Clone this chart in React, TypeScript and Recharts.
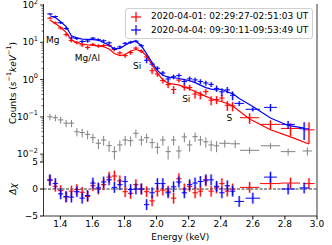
import React from 'react';
import {
  ComposedChart,
  Line,
  Scatter,
  XAxis,
  YAxis,
  ErrorBar,
  ReferenceLine,
  Label,
  Legend,
} from 'recharts';

const FONT = 'DejaVu Sans';
const RED = '#ff0000';
const BLUE = '#0000ff';
const GRAY = '#808080';

// energy bin centres (keV), narrow bins below 2.5 keV
const LOW_E = [
  1.335, 1.369, 1.402, 1.436, 1.469, 1.503, 1.536, 1.57, 1.603, 1.637, 1.67, 1.704, 1.737, 1.771,
  1.804, 1.838, 1.871, 1.905, 1.938, 1.972, 2.005, 2.039, 2.072, 2.106, 2.139, 2.173, 2.206, 2.24,
  2.273, 2.307, 2.34, 2.374, 2.407, 2.441, 2.474,
];
const LOW_HALF = LOW_E.map(() => 0.0167);

const blueE = [...LOW_E, 2.515, 2.6, 2.71, 2.82, 2.92];
const blueHalf = [...LOW_HALF, 0.03, 0.045, 0.04, 0.042, 0.03];
const blueObs = [
  57.5, 49, 33.4, 23.5, 13.1, 12.6, 10.5, 10.8, 12.9, 11.7, 11.0, 9.7, 6.8, 7.5, 9.4, 10.0, 10.7, 8.1,
  3.3, 2.6, 2.02, 1.5, 1.04, 1.19, 1.29, 0.89, 1.05, 0.98, 0.89, 0.81, 0.74, 0.58, 0.47, 0.53, 0.38,
  0.23, 0.16, 0.18, 0.063, 0.048,
];
const blueErr = [
  3.5, 3.0, 2.5, 2.0, 1.3, 1.1, 1.0, 1.0, 1.0, 1.0, 0.9, 0.8, 0.7, 0.7, 0.8, 0.9, 0.9, 0.8, 0.55, 0.35,
  0.25, 0.2, 0.18, 0.17, 0.17, 0.16, 0.15, 0.14, 0.13, 0.12, 0.11, 0.11, 0.11, 0.1, 0.1, 0.035, 0.02,
  0.04, 0.015, 0.024,
];
const blueModel = [
  51.6, 46, 35.6, 26.3, 15.0, 13.1, 12.2, 12.0, 11.8, 11.5, 9.8, 8.3, 6.6, 6.9, 8.3, 10.1, 10.7, 8.1, 4.9,
  2.84, 1.77, 1.3, 1.17, 1.12, 1.07, 1.0, 0.93, 0.83, 0.71, 0.61, 0.556, 0.526, 0.55, 0.466, 0.42, 0.31,
  0.19, 0.093, 0.059, 0.05,
];
const blueRes = [
  1.7, 1.0, -0.9, -1.4, -1.5, -0.5, -1.7, -1.2, 1.1, 0.2, 1.3, 1.7, 0.3, 0.8, 1.4, -0.1, 0, 0, -2.9, -0.7,
  1.0, 1.0, -0.7, 0.4, 1.3, -0.7, 0.8, 1.1, 1.4, 1.7, 1.7, 0.5, -0.7, 0.6, -0.4, -2.3, -1.7, 2.2, 0, 0.2,
];

const redE = [...LOW_E, 2.58, 2.71, 2.835, 2.95];
const redHalf = [...LOW_HALF, 0.06, 0.065, 0.06, 0.035];
const redObs = [
  44.4, 33.2, 24.2, 16.0, 11.1, 9.8, 8.5, 7.3, 8.8, 8.0, 8.2, 8.25, 6.4, 5.2, 4.4, 5.3, 7.0, 5.8, 4.05,
  1.73, 1.41, 0.95, 0.73, 0.54, 0.97, 0.63, 0.615, 0.41, 0.385, 0.475, 0.28, 0.29, 0.32, 0.205, 0.196,
  0.095, 0.063, 0.049, 0.045,
];
const redErr = [
  3, 2.6, 2.1, 1.7, 1.1, 1.0, 0.9, 0.9, 0.85, 0.85, 0.8, 0.75, 0.6, 0.55, 0.55, 0.65, 0.7, 0.65, 0.5,
  0.33, 0.22, 0.16, 0.14, 0.13, 0.13, 0.12, 0.11, 0.1, 0.09, 0.08, 0.075, 0.07, 0.065, 0.06, 0.055, 0.03,
  0.018, 0.018, 0.026,
];
const redModel = [
  39.6, 31.9, 24.8, 18.5, 11.5, 9.9, 9.0, 8.6, 8.3, 8.0, 7.6, 6.6, 5.0, 4.4, 4.7, 5.8, 6.4, 5.8, 4.3, 2.46,
  1.5, 0.98, 0.79, 0.76, 0.72, 0.63, 0.56, 0.48, 0.42, 0.355, 0.31, 0.275, 0.254, 0.229, 0.196, 0.088,
  0.045, 0.029, 0.0187,
];
const redRes = [
  1.6, 0.5, -0.3, -1.5, -0.4, -0.1, -0.6, -1.4, 0.6, 0, 0.8, 2.2, 2.4, 1.5, -0.5, -0.8, 0.8, 0, -0.5, -2.2,
  -0.4, -0.2, -0.4, -1.7, 1.9, 0, 0.5, -0.7, -0.4, 1.5, -0.4, 0.2, 1.0, -0.4, 0, 0.3, 1.0, 1.1, 1.0,
];

// background
const grayE = [...LOW_E.slice(0, 32), 2.425, 2.49, 2.58, 2.71, 2.82, 2.94];
const grayHalf = [...LOW_HALF.slice(0, 32), 0.035, 0.03, 0.06, 0.06, 0.045, 0.03];
const grayObs = [
  0.101, 0.095, 0.083, 0.068, 0.068, 0.04, 0.038, 0.034, 0.0277, 0.0196, 0.024, 0.0169, 0.0117, 0.0177,
  0.024, 0.023, 0.0363, 0.024, 0.0277, 0.0204, 0.0153, 0.024, 0.0117, 0.024, 0.0122, 0.029, 0.0177,
  0.0295, 0.024, 0.0215, 0.0177, 0.0168, 0.0196, 0.019, 0.0127, 0.0168, 0.0117, 0.0122,
];
const grayErr = [
  0.02, 0.019, 0.017, 0.015, 0.015, 0.01, 0.01, 0.009, 0.008, 0.006, 0.007, 0.0055, 0.0045, 0.0058,
  0.007, 0.0068, 0.009, 0.007, 0.0078, 0.0062, 0.0052, 0.007, 0.0045, 0.007, 0.0046, 0.0082, 0.006,
  0.0083, 0.007, 0.0065, 0.0058, 0.0055, 0.0045, 0.0045, 0.0025, 0.003, 0.0025, 0.003,
];

const lineNames = ['Mg', 'Mg/Al', 'Si', 'Si', 'S'];
const lineE = [1.352, 1.569, 1.879, 2.185, 2.454];
const lineY = [11.5, 3.7, 2.3, 0.3, 0.093];

const legendLabels = ['2020-04-01: 02:29:27-02:51:03 UT', '2020-04-04: 09:30:11-09:53:49 UT'];

const xTicks = [1.4, 1.6, 1.8, 2.0, 2.2, 2.4, 2.6, 2.8, 3.0];
const resTicks = [-5, 0, 5];
const logTicks: number[] = [];
[0.001, 0.01, 0.1, 1, 10].forEach((d) => {
  for (let m = 1; m < 10; m++) logTicks.push(+(d * m).toPrecision(3));
});
logTicks.push(100);

const X_DOMAIN: [number, number] = [1.295, 3.0];
const Y_DOMAIN: [number, number] = [0.00617, 106.4];
const RES_DOMAIN: [number, number] = [-5, 5];

const rows = (e: number[], v: number[], err: number[], half: number[]) =>
  e.map((x, i) => ({ e: x, v: v[i], ey: err[i], ex: half[i] }));
const modelRows = (e: number[], v: number[]) => e.map((x, i) => ({ e: x, v: v[i] }));

const blueData = rows(blueE, blueObs, blueErr, blueHalf);
const redData = rows(redE, redObs, redErr, redHalf);
const grayData = rows(grayE, grayObs, grayErr, grayHalf);
const blueResData = rows(blueE, blueRes, blueE.map(() => 1), blueHalf);
const redResData = rows(redE, redRes, redE.map(() => 1), redHalf);
const annotations = lineNames.map((t, i) => ({ e: lineE[i], v: lineY[i], text: t }));

const Empty = () => <g />;

const sup = (n: number) => (n < 0 ? '\u2212' + -n : String(n));

const LogTick = (props: any) => {
  const { x, y, payload } = props;
  const lg = Math.log10(payload.value);
  const exp = Math.round(lg);
  const major = Math.abs(lg - exp) < 1e-6;
  return (
    <g>
      <line x1={x - (major ? 3.5 : 2)} x2={x} y1={y} y2={y} stroke="#000" strokeWidth={major ? 0.8 : 0.6} />
      {major && (
        <text x={x - 5.5} y={y + 3} textAnchor="end" fontSize={9} fontFamily={FONT} fill="#000">
          10
          <tspan dy={-4.5} fontSize={6.5}>
            {sup(exp)}
          </tspan>
        </text>
      )}
    </g>
  );
};

const LineLabel = (props: any) => (
  <text x={props.cx} y={props.cy} textAnchor="middle" dominantBaseline="central" fontSize={9} fontFamily={FONT} fill="#000">
    {props.payload.text}
  </text>
);

const Cross = ({ color }: { color: string }) => (
  <svg width={14} height={10} style={{ display: 'block' }}>
    <line x1={2} x2={12} y1={5} y2={5} stroke={color} strokeWidth={1.2} />
    <line x1={7} x2={7} y1={0} y2={10} stroke={color} strokeWidth={1.2} />
  </svg>
);

const LegendBox = () => (
  <div
    style={{
      border: '1px solid #d0d0d0',
      borderRadius: 3,
      background: 'rgba(255,255,255,0.85)',
      padding: '1px 4px 1px 3px',
      fontFamily: FONT,
      fontSize: 9,
      lineHeight: '13.5px',
      whiteSpace: 'nowrap',
    }}
  >
    {legendLabels.map((t, i) => (
      <div key={t} style={{ display: 'flex', alignItems: 'center' }}>
        <Cross color={i === 0 ? RED : BLUE} />
        <span style={{ marginLeft: 8 }}>{t}</span>
      </div>
    ))}
  </div>
);

const spine = { stroke: '#000', strokeWidth: 0.8 };

const dataLayer = (data: any[], color: string, thick: boolean) => (
  <Scatter data={data} dataKey="v" shape={<Empty />} isAnimationActive={false} legendType="none">
    {thick && <ErrorBar dataKey="ey" direction="y" width={0} stroke={color} strokeWidth={2.5} strokeOpacity={0.3} />}
    <ErrorBar dataKey="ey" direction="y" width={0} stroke={color} strokeWidth={1} />
    <ErrorBar dataKey="ex" direction="x" width={0} stroke={color} strokeWidth={1} />
  </Scatter>
);

export default function App() {
  return (
    <div style={{ position: 'absolute', left: 0, top: 0, width: 332, height: 245, background: '#fff', overflow: 'hidden' }}>
      <div style={{ position: 'absolute', left: 0, top: -8 }}>
        <ComposedChart width={332} height={170} margin={{ top: 12, right: 7.5, bottom: 0, left: 0 }}>
          <XAxis dataKey="e" type="number" domain={X_DOMAIN} allowDataOverflow height={0} tick={false} tickLine={false} axisLine={spine} />
          <XAxis xAxisId="top" orientation="top" dataKey="e" type="number" domain={X_DOMAIN} allowDataOverflow height={0} tick={false} tickLine={false} axisLine={spine} />
          <YAxis
            type="number"
            scale="log"
            domain={Y_DOMAIN}
            allowDataOverflow
            ticks={logTicks}
            interval={0}
            width={43.5}
            tick={<LogTick />}
            tickLine={false}
            tickSize={0}
            tickMargin={0}
            axisLine={spine}
          >
            <Label
              content={(p: any) => {
                const vb = p.viewBox || { x: 0, y: 12, height: 158 };
                const cy = vb.y + vb.height / 2;
                return (
                  <text transform={`translate(${vb.x + 12.5},${cy}) rotate(-90)`} textAnchor="middle" dominantBaseline="central" fontSize={9} fontFamily={FONT} fill="#000">
                    Counts (<tspan fontStyle="italic">s</tspan>
                    <tspan dy={-3.5} fontSize={6.5}>{'\u22121'}</tspan>
                    <tspan dy={3.5} fontStyle="italic">keV</tspan>
                    <tspan dy={-3.5} fontSize={6.5}>{'\u22121'}</tspan>
                    <tspan dy={3.5}>)</tspan>
                  </text>
                );
              }}
            />
          </YAxis>
          <YAxis yAxisId="right" orientation="right" type="number" domain={[0, 1]} width={7.5} tick={false} tickLine={false} axisLine={spine} />
          {dataLayer(grayData, GRAY, false)}
          {dataLayer(redData, RED, true)}
          {dataLayer(blueData, BLUE, true)}
          <Line data={modelRows(redE, redModel)} dataKey="v" stroke={RED} strokeWidth={1.2} dot={false} isAnimationActive={false} legendType="none" />
          <Line data={modelRows(blueE, blueModel)} dataKey="v" stroke={BLUE} strokeWidth={1.2} dot={false} isAnimationActive={false} legendType="none" />
          <Scatter data={annotations} dataKey="v" shape={<LineLabel />} isAnimationActive={false} legendType="none" />
          <Legend
            layout="vertical"
            align="center"
            verticalAlign="middle"
            content={() => <LegendBox />}
            wrapperStyle={{ left: 125, top: 16, width: 'auto', height: 'auto' }}
          />
        </ComposedChart>
      </div>
      <div style={{ position: 'absolute', left: 0, top: 148 }}>
        <ComposedChart width={332} height={97} margin={{ top: 14, right: 7.5, bottom: 0, left: 0 }}>
          <XAxis
            dataKey="e"
            type="number"
            domain={X_DOMAIN}
            allowDataOverflow
            ticks={xTicks}
            interval={0}
            height={29}
            tickSize={3.5}
            tickMargin={1.5}
            stroke="#000"
            axisLine={spine}
            tickFormatter={(v: number) => v.toFixed(1)}
            tick={{ fontSize: 9, fontFamily: FONT, fill: '#000' }}
          >
            <Label
              content={(p: any) => {
                const vb = p.viewBox || { x: 43.5, y: 68, width: 281 };
                return (
                  <text x={vb.x + vb.width / 2} y={vb.y + 21} textAnchor="middle" dominantBaseline="central" fontSize={9} fontFamily={FONT} fill="#000">
                    Energy (keV)
                  </text>
                );
              }}
            />
          </XAxis>
          <XAxis xAxisId="top" orientation="top" dataKey="e" type="number" domain={X_DOMAIN} allowDataOverflow height={0} tick={false} tickLine={false} axisLine={spine} />
          <YAxis
            type="number"
            domain={RES_DOMAIN}
            allowDataOverflow
            ticks={resTicks}
            interval={0}
            width={43.5}
            tickSize={3.5}
            tickMargin={2}
            stroke="#000"
            axisLine={spine}
            tickFormatter={(v: number) => sup(v)}
            tick={{ fontSize: 9, fontFamily: FONT, fill: '#000' }}
          >
            <Label
              content={(p: any) => {
                const vb = p.viewBox || { x: 0, y: 14, height: 54 };
                const cy = vb.y + vb.height / 2;
                return (
                  <text transform={`translate(${vb.x + 12.5},${cy}) rotate(-90)`} textAnchor="middle" dominantBaseline="central" fontSize={9} fontFamily={FONT} fontStyle="italic" fill="#000">
                    {'\u0394\u03c7'}
                  </text>
                );
              }}
            />
          </YAxis>
          <YAxis yAxisId="right" orientation="right" type="number" domain={[0, 1]} width={7.5} tick={false} tickLine={false} axisLine={spine} />
          <ReferenceLine y={0} stroke="#000" strokeWidth={0.8} strokeDasharray="3 1.5" />
          {dataLayer(redResData, RED, true)}
          {dataLayer(blueResData, BLUE, true)}
        </ComposedChart>
      </div>
    </div>
  );
}
